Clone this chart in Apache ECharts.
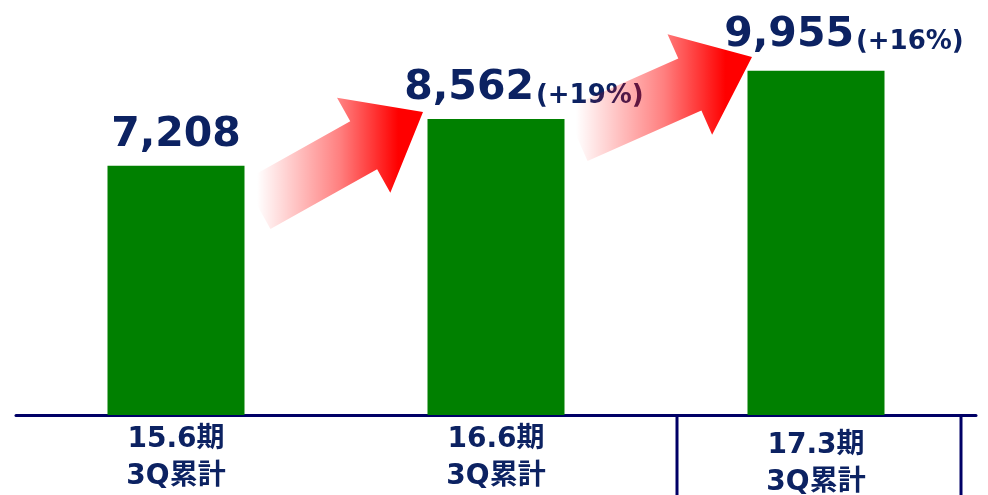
<!DOCTYPE html>
<html>
<head>
<meta charset="utf-8">
<script src="https://cdn.jsdelivr.net/npm/echarts@6/dist/echarts.min.js"></script>
<style>
  html, body { margin: 0; padding: 0; background: #ffffff; }
  #chart { width: 988px; height: 495px; }
</style>
</head>
<body>
<div id="chart"></div>
<script>
// 数据: 各期3Q累計の値と前年比
const periods = ['15.6期', '16.6期', '17.3期']
const periodNotes = ['3Q累計', '3Q累計', '3Q累計']
const totals = [7208, 8562, 9955]
const growthRates = ['', '+19%', '+16%']

const navy = '#0c2262'
const lineNavy = '#000066'

const chart = echarts.init(document.getElementById('chart'))

// 矢印: 尾の中心から先端へ、軸と直角方向に幅を取る
function arrowPoints(tail, tip, shaftW, headW, headL) {
  const dx = tip[0] - tail[0]
  const dy = tip[1] - tail[1]
  const len = Math.hypot(dx, dy)
  const ux = dx / len
  const uy = dy / len
  const nx = -uy
  const ny = ux
  const base = [tip[0] - ux * headL, tip[1] - uy * headL]
  const at = (p, w) => [p[0] + nx * w, p[1] + ny * w]
  return [
    at(tail, shaftW / 2),
    at(base, shaftW / 2),
    at(base, headW / 2),
    tip,
    at(base, -headW / 2),
    at(base, -shaftW / 2),
    at(tail, -shaftW / 2)
  ]
}

function arrowGraphic(tail, tip, shaftW, headW, headL) {
  return {
    type: 'polygon',
    z: 100,
    shape: { points: arrowPoints(tail, tip, shaftW, headW, headL) },
    style: {
      fill: new echarts.graphic.LinearGradient(tail[0], 0, tip[0], 0, [
        { offset: 0, color: 'rgba(255,0,0,0)' },
        { offset: 0.5, color: 'rgba(255,0,0,0.5)' },
        { offset: 0.85, color: 'rgba(255,0,0,1)' },
        { offset: 1, color: 'rgba(255,0,0,1)' }
      ], true)
    }
  }
}

const barData = totals.map((value, i) => ({
  value,
  label: {
    offset: growthRates[i] ? [28, i === 2 ? -5 : 0] : [0, 0]
  }
}))

const categoryData = periods.map((p, i) => ({
  value: p + '\n' + periodNotes[i],
  textStyle: i === 2 ? { padding: [6, 0, 0, 0] } : {}
}))

chart.setOption({
  backgroundColor: '#ffffff',
  animation: false,
  grid: {
    left: 16,
    right: 12,
    top: 0,
    bottom: 80,
    outerBoundsMode: 'none',
    containLabel: false
  },
  xAxis: {
    type: 'category',
    data: categoryData,
    axisTick: { show: false },
    axisLine: {
      show: true,
      lineStyle: { color: lineNavy, width: 3 }
    },
    axisLabel: {
      color: navy,
      fontFamily: '"DejaVu Sans", "Noto Sans CJK JP", sans-serif',
      fontWeight: 'bold',
      fontSize: 28,
      lineHeight: 37,
      margin: 6
    }
  },
  yAxis: {
    type: 'value',
    min: 0,
    max: 12000,
    show: false
  },
  series: [
    {
      type: 'bar',
      barWidth: 137,
      itemStyle: { color: '#008000' },
      data: barData,
      label: {
        show: true,
        position: 'top',
        distance: 10,
        formatter: (params) => {
          const num = params.value.toLocaleString('en-US')
          const g = growthRates[params.dataIndex]
          return g ? `{num|${num}}{pct|(${g})}` : `{num|${num}}`
        },
        rich: {
          num: {
            color: navy,
            fontFamily: '"DejaVu Sans", sans-serif',
            fontWeight: 'bold',
            fontSize: 41,
            verticalAlign: 'bottom',
            lineHeight: 46
          },
          pct: {
            color: navy,
            fontFamily: '"DejaVu Sans", sans-serif',
            fontWeight: 'bold',
            fontSize: 26,
            verticalAlign: 'bottom',
            lineHeight: 34,
            padding: [0, 0, 0, 2]
          }
        }
      }
    }
  ],
  graphic: [
    arrowGraphic([257, 205], [423, 112], 55, 109, 68),
    arrowGraphic([576, 135], [752, 57], 57, 110, 68),
    {
      type: 'line',
      z: 100,
      shape: { x1: 677, y1: 416, x2: 677, y2: 495 },
      style: { stroke: lineNavy, lineWidth: 3 }
    },
    {
      type: 'line',
      z: 100,
      shape: { x1: 961, y1: 416, x2: 961, y2: 495 },
      style: { stroke: lineNavy, lineWidth: 3 }
    }
  ]
})
</script>
</body>
</html>
